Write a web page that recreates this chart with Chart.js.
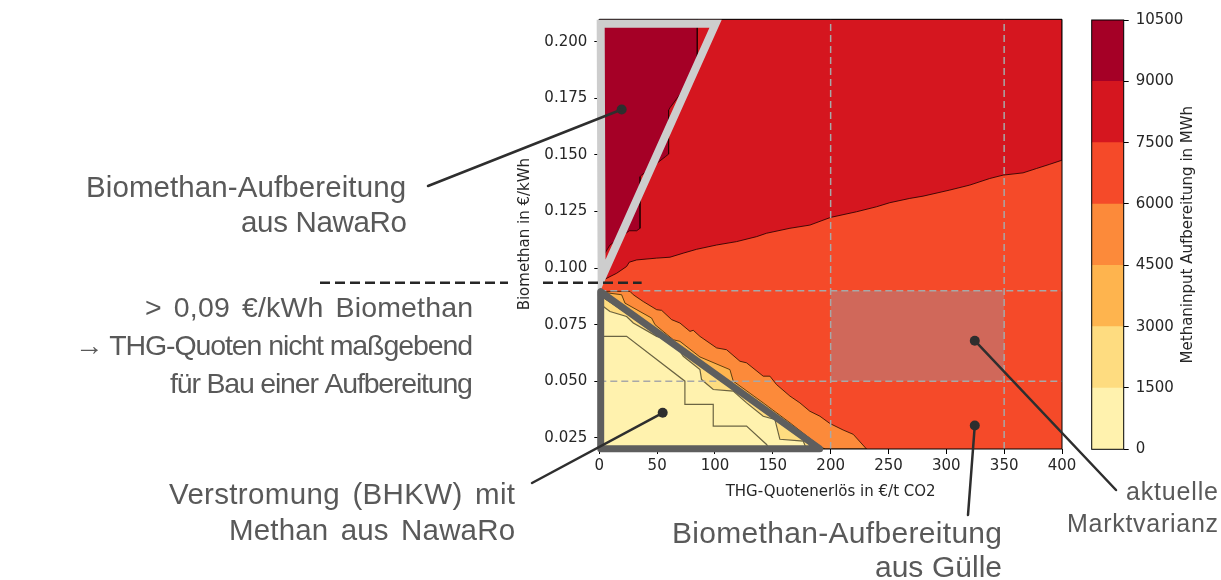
<!DOCTYPE html>
<html><head><meta charset="utf-8">
<script src="https://cdn.jsdelivr.net/npm/chart.js@4.4.1/dist/chart.umd.min.js"></script>
<style>
html,body{margin:0;padding:0;background:#fff;}
#wrap{position:relative;width:1221px;height:580px;overflow:hidden;}
#main{position:absolute;left:0;top:0;}
#cbar{position:absolute;left:1080px;top:0;}
</style></head><body>
<div id="wrap"><canvas id="main" width="1221" height="580"></canvas><canvas id="cbar" width="141" height="580"></canvas></div>
<script>
// ---------------- data ----------------
const xTicks = [0, 50, 100, 150, 200, 250, 300, 350, 400];
const yTicks = [0.025, 0.05, 0.075, 0.1, 0.125, 0.15, 0.175, 0.2];
const xRange = [0, 400];
const yRange = [0.02, 0.21];
const cbLevels = [0, 1500, 3000, 4500, 6000, 7500, 9000, 10500];
const cbColors = ['#fff2ae', '#fedc80', '#feb44e', '#fc8a3a', '#f54a29', '#d5161f', '#a50026'];

// contour boundaries (x: €/t CO2, y: €/kWh)
const band5Edge = [[0,0.0935],[4.9,0.0951],[15.0,0.0977],[23.6,0.1007],[25.9,0.1026],[32.3,0.1036],[49.6,0.1044],[61.1,0.1048],[72.6,0.1066],[84.1,0.1083],[101.4,0.1102],[118.7,0.1117],[136.0,0.1139],[144.6,0.1154],[164.8,0.1176],[182.0,0.1190],[199.9,0.1224],[222.4,0.1249],[239.6,0.1271],[251.1,0.1289],[268.4,0.1308],[279.9,0.1318],[303.0,0.1345],[320.3,0.1367],[337.5,0.1396],[349.1,0.1411],[366.3,0.1421],[377.8,0.1440],[389.4,0.1459],[400,0.1477]];
const band6Edge = [[0,0.21],[84.7,0.21],[84.7,0.1918],[71.2,0.1778],[61.1,0.1709],[59.9,0.1698],[59.9,0.1504],[57.0,0.1492],[36.6,0.1411],[35.2,0.1404],[35.2,0.1176],[32.3,0.1165],[25.9,0.1165],[9.2,0.1102],[4.9,0.1066],[0,0.0945]];
const band3Edge = [[0,0.0897],[26.5,0.0897],[29.4,0.0882],[38.0,0.0852],[49.6,0.0816],[53.9,0.0813],[62.5,0.0772],[69.7,0.0757],[78.4,0.0720],[81.2,0.0725],[87.0,0.0698],[101.4,0.0647],[110.0,0.0639],[121.6,0.0588],[127.3,0.0581],[141.7,0.0522],[147.5,0.0522],[153.2,0.0485],[164.8,0.0434],[173.4,0.0404],[182.0,0.0367],[190.7,0.0345],[199.3,0.0313],[210.8,0.0284],[219.5,0.0265],[231.0,0.02]];
const band2Edge = [[0,0.0895],[19.3,0.0882],[22.2,0.0845],[45.2,0.0779],[48.1,0.0750],[64.0,0.0683],[69.7,0.0676],[87.0,0.0607],[112.9,0.0551],[115.8,0.0500],[141.7,0.0404],[164.8,0.0316],[190.5,0.0213],[195,0.02]];
const band1Edge = [[0,0.0880],[30,0.0778],[60,0.0672],[90,0.0565],[120,0.0458],[150,0.0352],[170,0.0282],[185,0.0232],[192,0.02]];
const band0Edge = [[0,0.0845],[3.5,0.0830],[9.2,0.0808],[23.6,0.0786],[29.4,0.0757],[49.6,0.0698],[64.0,0.0676],[72.6,0.0610],[87.0,0.0551],[88.4,0.0507],[98.5,0.0463],[115.8,0.0456],[127.3,0.0404],[141.7,0.0345],[151.8,0.0331],[156.1,0.0243],[176.3,0.0235],[179,0.02]];
const innerContour = [[0,0.0698],[23.6,0.0698],[74.0,0.0500],[74.0,0.0397],[98.5,0.0397],[98.5,0.0301],[127.3,0.0301],[144.6,0.0220],[147,0.02]];

// market variance box and guide lines
const marketX = [200, 350];
const marketY = [0.05, 0.09];
// highlighted regions (triangles)
const nawaroTri = [[1.2,0.208],[100.5,0.208],[2,0.0955]];
const bhkwTri = [[1.2,0.0895],[1.2,0.0201],[190.5,0.0201]];
// annotation anchor points
const dotPoints = [[19.35,0.1701],[54.8,0.036],[324.6,0.0304],[324.6,0.0679]];
const thresholdY = 0.0935;
const thresholdX = 36.6;

const annoTexts = [
  'Biomethan-Aufbereitung', 'aus NawaRo',
  '> 0,09 €/kWh Biomethan', '→ THG-Quoten nicht maßgebend', 'für Bau einer Aufbereitung',
  'Verstromung (BHKW) mit', 'Methan aus NawaRo',
  'Biomethan-Aufbereitung', 'aus Gülle',
  'aktuelle', 'Marktvarianz'
];
const xTitle = 'THG-Quotenerlös in €/t CO2';
const yTitle = 'Biomethan in €/kWh';
const cbTitle = 'Methaninput Aufbereitung in MWh';

// ---------------- layout (pixels) ----------------
const LAYOUT = {
  leaders: [[428,186],[532,483],[968,515],[1116,490]],
  dashSegs: [[320,508],[543,null]],
  texts: [
    {r:406,b:197,s:29.5,w:320},{r:407,b:232,s:29.5,w:166},
    {r:473,b:317,s:28.5,w:328},{r:473,b:355,s:28.5,w:398},{r:473,b:393,s:28.5,w:303},
    {r:515,b:504,s:29.5,w:346},{r:515,b:540,s:29.5,w:286},
    {r:1002,b:543,s:30,w:330},{r:1002,b:577,s:30,w:127},
    {r:1218,b:500,s:25,w:92},{r:1218,b:532,s:25,w:151}
  ]
};

const pts = a => a.map(p => ({x:p[0], y:p[1]}));
const TICKFONT = {family:'"DejaVu Sans", sans-serif', size:15};
const TXT = '#262626';

function poly(points, color, order, border, bw) {
  return {data: pts(points), showLine:true, fill:'shape', backgroundColor:color,
          borderColor: border || 'rgba(0,0,0,0)', borderWidth: bw || 0, pointRadius:0, tension:0, order};
}
function line(points, color, width, dash, order, extra) {
  return Object.assign({data: pts(points), showLine:true, fill:false, borderColor:color, borderWidth:width,
          borderDash: dash || [], pointRadius:0, tension:0, order}, extra || {});
}

const full = [[xRange[0],yRange[0]],[xRange[1],yRange[0]],[xRange[1],yRange[1]],[xRange[0],yRange[1]]];
const datasets = [
  poly(full, cbColors[4], 30),
  poly([...band5Edge, [xRange[1],yRange[1]], [xRange[0],yRange[1]]], cbColors[5], 29, 'rgba(40,0,0,0.85)', 1),
  poly(band6Edge, cbColors[6], 28, 'rgba(40,0,0,0.85)', 1),
  poly([...band3Edge, [xRange[0],yRange[0]]], cbColors[3], 27, 'rgba(50,20,0,0.85)', 1),
  poly([...band2Edge, [xRange[0],yRange[0]]], cbColors[2], 26, 'rgba(60,40,0,0.8)', 1),
  poly([...band1Edge, [xRange[0],yRange[0]]], cbColors[1], 25, 'rgba(60,50,20,0.8)', 1),
  poly([...band0Edge, [xRange[0],yRange[0]]], cbColors[0], 24, 'rgba(70,65,40,0.8)', 1.2),
  line(innerContour, 'rgba(70,65,40,0.8)', 1.2, null, 23),
  poly([[marketX[0],marketY[0]],[marketX[1],marketY[0]],[marketX[1],marketY[1]],[marketX[0],marketY[1]]], '#d0685a', 22),
  ...marketX.map(v => line([[v,yRange[0]],[v,yRange[1]]], '#a8a8a8', 1.5, [7,4], 21)),
  ...marketY.map(v => line([[xRange[0],v],[xRange[1],v]], '#a8a8a8', 1.5, [7,4], 21)),
  line([...full, full[0]], '#000', 1, null, 20, {clip:false}),
  line([...nawaroTri, nawaroTri[0], nawaroTri[1]], '#cdcdcd', 8, null, 19, {clip:false, borderJoinStyle:'miter', borderCapStyle:'butt'}),
  line([...bhkwTri, bhkwTri[0], bhkwTri[1]], '#5e5e5e', 7, null, 18, {clip:false, borderJoinStyle:'round', borderCapStyle:'round'}),
  {data: pts(dotPoints), showLine:false, pointRadius:5, pointBackgroundColor:'#2e2e2e', pointBorderWidth:0, order:1, clip:false}
];

const annotPlugin = {
  id:'annot',
  afterDraw(chart) {
    const {ctx} = chart; const xs = chart.scales.x, ys = chart.scales.y;
    ctx.save();
    ctx.strokeStyle = '#2e2e2e'; ctx.lineWidth = 2.5; ctx.lineCap = 'round';
    LAYOUT.leaders.forEach((p, i) => {
      const d = dotPoints[i];
      ctx.beginPath(); ctx.moveTo(p[0], p[1]);
      ctx.lineTo(xs.getPixelForValue(d[0]), ys.getPixelForValue(d[1])); ctx.stroke();
    });
    const ty = ys.getPixelForValue(thresholdY);
    ctx.setLineDash([10,5]); ctx.lineCap = 'butt'; ctx.strokeStyle = '#262626'; ctx.lineWidth = 2.5;
    LAYOUT.dashSegs.forEach(s => {
      const x2 = s[1] === null ? xs.getPixelForValue(thresholdX) : s[1];
      ctx.beginPath(); ctx.moveTo(s[0], ty); ctx.lineTo(x2, ty); ctx.stroke();
    });
    ctx.setLineDash([]);
    ctx.fillStyle = '#595959'; ctx.textBaseline = 'alphabetic';
    const hasLS = 'letterSpacing' in ctx, hasWS = 'wordSpacing' in ctx;
    annoTexts.forEach((txt, i) => {
      const t = LAYOUT.texts[i];
      ctx.font = t.s + 'px "Liberation Sans", Arial, sans-serif';
      if (hasLS) ctx.letterSpacing = '0px';
      if (hasWS) ctx.wordSpacing = '0px';
      const w0 = ctx.measureText(txt).width;
      const n = [...txt].length;
      const spaces = (txt.match(/ /g) || []).length;
      let extra = t.w - w0;
      if (hasLS && n > 1) {
        let ws = 0;
        if (hasWS && extra > 0 && spaces > 0) { ws = Math.min(extra / spaces, 4); extra -= ws * spaces; }
        if (hasWS) ctx.wordSpacing = ws.toFixed(2) + 'px';
        ctx.letterSpacing = (extra / (n - 1)).toFixed(2) + 'px';
        ctx.textAlign = 'left'; ctx.fillText(txt, t.r - t.w, t.b);
        ctx.letterSpacing = '0px';
        if (hasWS) ctx.wordSpacing = '0px';
      } else { ctx.textAlign = 'right'; ctx.fillText(txt, t.r, t.b); }
    });
    ctx.restore();
  }
};

new Chart(document.getElementById('main'), {
  type:'scatter',
  data:{datasets},
  options:{
    responsive:false, animation:false, events:[], devicePixelRatio:1,
    layout:{padding:{left:512.3, right:159, top:19.3, bottom:75.3}},
    plugins:{legend:{display:false}, tooltip:{enabled:false}},
    scales:{
      x:{type:'linear', min:xRange[0], max:xRange[1],
         afterBuildTicks: s => { s.ticks = xTicks.map(v => ({value:v})); },
         afterFit: s => { s.height = 55.7; },
         ticks:{font:TICKFONT, color:TXT, padding:3, maxRotation:0, callback: v => String(v)},
         grid:{drawOnChartArea:false, tickLength:5, color:'#000', tickColor:'#000'},
         border:{display:false},
         title:{display:true, text:xTitle, font:TICKFONT, color:TXT, padding:{top:4,bottom:4}}},
      y:{type:'linear', min:yRange[0], max:yRange[1],
         afterBuildTicks: s => { s.ticks = yTicks.map(v => ({value:v})); },
         afterFit: s => { s.width = 87; },
         ticks:{font:TICKFONT, color:TXT, padding:7, callback: v => Number(v).toFixed(3)},
         grid:{drawOnChartArea:false, tickLength:5, color:'#000', tickColor:'#000'},
         border:{display:false},
         title:{display:true, text:yTitle, font:TICKFONT, color:TXT, padding:{top:4,bottom:4}}}
    }
  },
  plugins:[annotPlugin]
});

const cbPlugin = {
  id:'cbframe',
  afterDraw(chart) {
    const {ctx, chartArea:a} = chart;
    ctx.save();
    ctx.strokeStyle = '#000'; ctx.lineWidth = 1;
    ctx.strokeRect(a.left, a.top, a.right - a.left, a.bottom - a.top);
    ctx.fillStyle = TXT; ctx.font = '15px "DejaVu Sans", sans-serif';
    ctx.textAlign = 'center'; ctx.textBaseline = 'middle';
    ctx.translate(108, (a.top + a.bottom) / 2); ctx.rotate(-Math.PI/2);
    ctx.fillText(cbTitle, 0, 0);
    ctx.restore();
  }
};

new Chart(document.getElementById('cbar'), {
  type:'bar',
  data:{labels:[''], datasets: cbColors.map((c, i) => ({
    data:[cbLevels[i+1] - cbLevels[i]], backgroundColor:c, borderWidth:0,
    barPercentage:1, categoryPercentage:1, stack:'cb'}))},
  options:{
    responsive:false, animation:false, events:[], devicePixelRatio:1,
    layout:{padding:{left:11.7, right:0, top:20, bottom:130.7}},
    plugins:{legend:{display:false}, tooltip:{enabled:false}},
    scales:{
      x:{display:false, stacked:true},
      y:{stacked:true, position:'right', min:cbLevels[0], max:cbLevels[cbLevels.length-1],
         afterBuildTicks: s => { s.ticks = cbLevels.map(v => ({value:v})); },
         afterFit: s => { s.width = 97.3; },
         ticks:{font:TICKFONT, color:TXT, padding:7, callback: v => String(v)},
         grid:{drawOnChartArea:false, tickLength:5, color:'#000', tickColor:'#000'},
         border:{display:false}}
    }
  },
  plugins:[cbPlugin]
});
</script>
</body></html>
